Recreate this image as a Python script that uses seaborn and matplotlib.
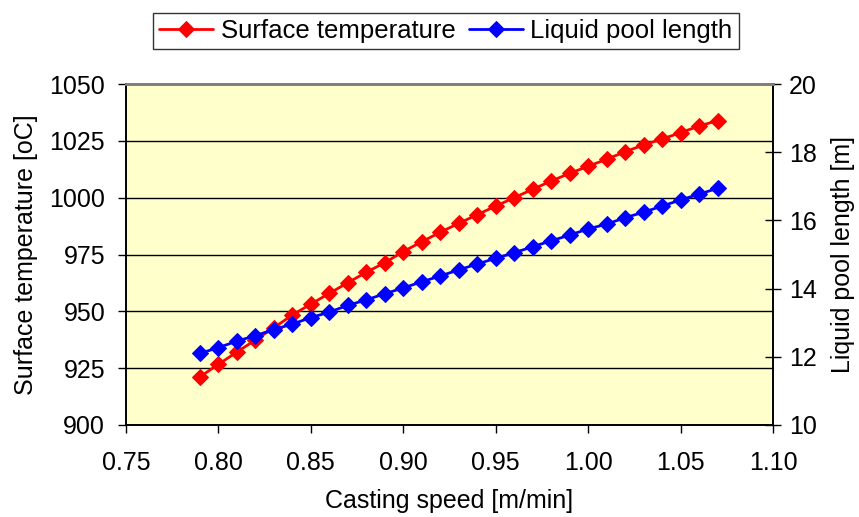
import numpy as np
import pandas as pd
import seaborn as sns
import matplotlib.pyplot as plt
from matplotlib.ticker import FormatStrFormatter, MultipleLocator

speed = [0.79, 0.80, 0.81, 0.82, 0.83, 0.84, 0.85, 0.86, 0.87, 0.88,
         0.89, 0.90, 0.91, 0.92, 0.93, 0.94, 0.95, 0.96, 0.97, 0.98,
         0.99, 1.00, 1.01, 1.02, 1.03, 1.04, 1.05, 1.06, 1.07]
surface_temp = [921.2, 926.7, 932.1, 937.4, 942.8, 948.4, 953.2, 957.9, 962.6, 967.2,
                971.4, 976.3, 980.6, 984.8, 988.7, 992.5, 996.3, 1000.0, 1003.7, 1007.3,
                1010.7, 1013.8, 1016.9, 1020.2, 1023.2, 1025.8, 1028.6, 1031.5, 1033.9]
pool_length = [12.10, 12.27, 12.46, 12.62, 12.80, 12.96, 13.15, 13.31, 13.51, 13.67,
               13.85, 14.02, 14.20, 14.37, 14.55, 14.72, 14.89, 15.05, 15.23, 15.40,
               15.57, 15.75, 15.89, 16.08, 16.24, 16.42, 16.60, 16.77, 16.94]

df = pd.DataFrame({"speed": speed, "temp": surface_temp, "pool": pool_length})

sns.set_theme(style="white")
plt.rcParams['font.family'] = ['Liberation Sans', 'DejaVu Sans']
plt.rcParams['font.size'] = 18
plt.rcParams['text.color'] = 'black'
plt.rcParams['axes.labelcolor'] = 'black'
plt.rcParams['xtick.color'] = 'black'
plt.rcParams['ytick.color'] = 'black'

fig, ax = plt.subplots(figsize=(8.59, 5.17), dpi=100)
fig.subplots_adjust(left=126/859, right=773/859, top=1-84/517, bottom=1-425/517)
ax.set_facecolor("#FFFFCC")

sns.lineplot(data=df, x="speed", y="temp", ax=ax, color="red", marker="D",
             markersize=8, markeredgecolor="red", linewidth=2,
             label="Surface temperature", legend=False)

ax2 = ax.twinx()
sns.lineplot(data=df, x="speed", y="pool", ax=ax2, color="blue", marker="D",
             markersize=8, markeredgecolor="blue", linewidth=2,
             label="Liquid pool length", legend=False)

# axes
ax.set_xlim(0.75, 1.10)
ax.set_ylim(900, 1050)
ax2.set_ylim(10, 20)
ax.xaxis.set_major_locator(MultipleLocator(0.05))
ax.xaxis.set_major_formatter(FormatStrFormatter("%.2f"))
ax.yaxis.set_major_locator(MultipleLocator(25))
ax2.yaxis.set_major_locator(MultipleLocator(2))

ax.yaxis.grid(True, color="black", linewidth=1)
ax.set_axisbelow(True)

ax.tick_params(axis="y", direction="out", length=6, width=1, color="black",
               labelcolor="black", pad=9, labelsize=18)
ax.tick_params(axis="x", direction="out", length=6, width=1, color="black",
               labelcolor="black", pad=13, labelsize=18)
ax2.tick_params(axis="y", direction="inout", length=11, width=1, color="black",
                labelcolor="black", pad=6, labelsize=18)
ax.tick_params(left=True, bottom=True)
ax2.tick_params(right=True)

for a in (ax, ax2):
    for side in ("left", "right", "bottom"):
        a.spines[side].set_color("black")
        a.spines[side].set_linewidth(1.2)
    a.spines["top"].set_color("#808080")
    a.spines["top"].set_linewidth(2)

ax.set_xlabel("Casting speed [m/min]", fontsize=18, labelpad=10, color="black")
ax.set_ylabel("Surface temperature [oC]", fontsize=18, labelpad=8, color="black")
ax2.set_ylabel("Liquid pool length [m]", fontsize=18, labelpad=10, color="black")

h1, l1 = ax.get_legend_handles_labels()
h2, l2 = ax2.get_legend_handles_labels()
leg = fig.legend(h1 + h2, l1 + l2, loc="center", bbox_to_anchor=(446/859, 1-31/517),
                 ncol=2, fontsize=18.5, frameon=True, fancybox=False, edgecolor="black",
                 handlelength=2.1, handletextpad=0.3, columnspacing=0.5,
                 borderpad=0.25, borderaxespad=0)
leg.get_frame().set_linewidth(1)
for t in leg.get_texts():
    t.set_color("black")

fig.savefig("out.png", dpi=100)
